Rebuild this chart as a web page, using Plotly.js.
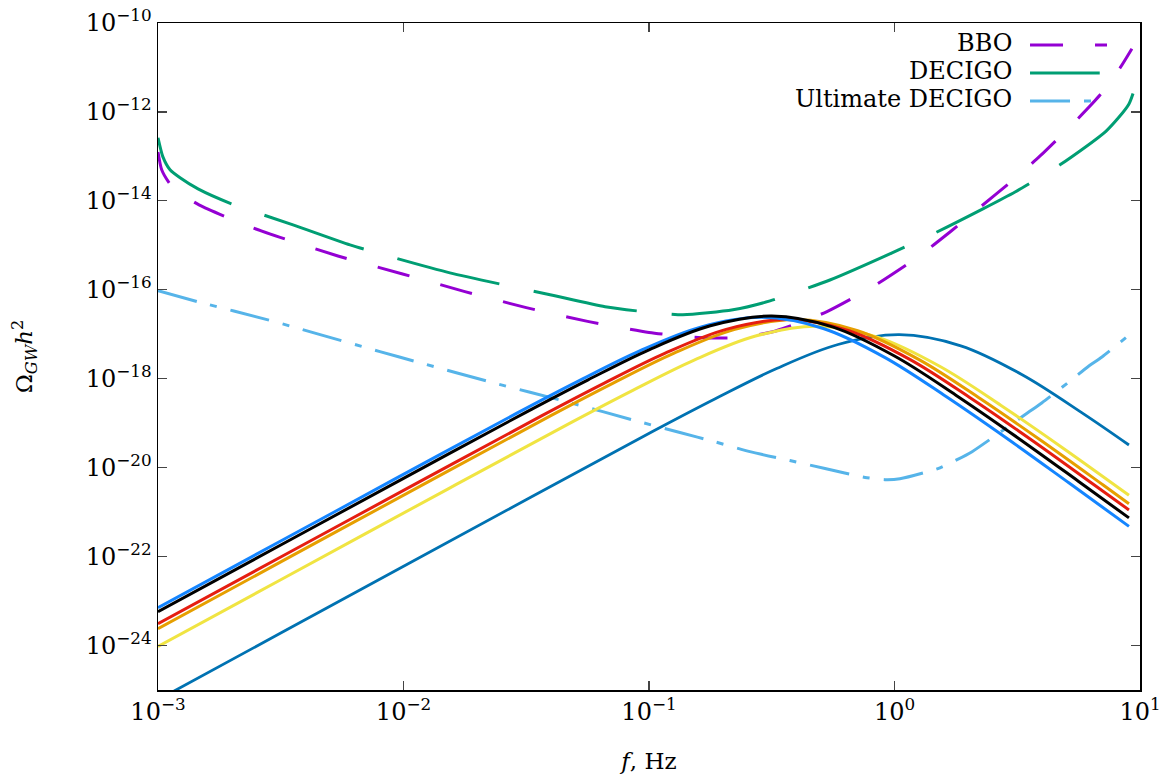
<!DOCTYPE html>
<html>
<head>
<meta charset="utf-8">
<script src="https://cdn.plot.ly/plotly-3.0.1.min.js"></script>
<style>
  html, body { margin: 0; padding: 0; background: #ffffff; }
  #chart { width: 1170px; height: 778px; }
</style>
</head>
<body>
<div id="chart"></div>
<script>
// ---- Data (values are log10 of f [Hz] and log10 of Omega_GW h^2) ----
const bboLogF = [-3.000, -2.985, -2.951, -2.900, -2.833, -2.613, -2.267, -2.000, -1.750, -1.500, -1.250, -1.000, -0.800, -0.650, -0.500, -0.397, -0.275, -0.088, 0.096, 0.226, 0.336, 0.483, 0.593, 0.735, 0.837, 0.920, 0.967];
const bboLogOmega = [-12.90, -13.30, -13.62, -13.86, -14.09, -14.61, -15.24, -15.65, -16.04, -16.40, -16.71, -16.96, -17.07, -17.08, -16.95, -16.76, -16.49, -15.93, -15.26, -14.70, -14.20, -13.53, -12.99, -12.22, -11.62, -11.00, -10.58];

const decigoLogF = [-3.000, -2.980, -2.951, -2.910, -2.837, -2.699, -2.450, -2.218, -2.083, -1.811, -1.403, -1.179, -1.024, -0.862, -0.658, -0.507, -0.263, -0.010, 0.173, 0.360, 0.491, 0.674, 0.862, 0.955, 1.000];
const decigoLogOmega = [-12.58, -13.01, -13.30, -13.48, -13.73, -14.07, -14.54, -14.99, -15.21, -15.62, -16.11, -16.38, -16.49, -16.56, -16.45, -16.25, -15.78, -15.17, -14.70, -14.18, -13.80, -13.19, -12.43, -11.82, -11.05];

const ultimateLogF = [-3.000, -2.837, -2.556, -2.096, -1.933, -1.635, -1.334, -1.037, -0.874, -0.731, -0.589, -0.426, -0.283, -0.120, -0.039, 0.022, 0.177, 0.255, 0.316, 0.544, 0.601, 0.727, 0.788, 0.845, 0.972];
const ultimateLogOmega = [-16.02, -16.27, -16.67, -17.39, -17.64, -18.09, -18.52, -18.97, -19.21, -19.42, -19.64, -19.84, -20.02, -20.22, -20.27, -20.25, -20.02, -19.82, -19.64, -18.76, -18.54, -18.00, -17.73, -17.51, -16.94];

const darkBlueLogF = [-3.000, -2.500, -1.480, -0.980, -0.730, -0.480, -0.230, 0.020, 0.270, 0.520, 0.770, 0.955];
const darkBlueLogOmega = [-25.22, -23.72, -20.66, -19.17, -18.45, -17.77, -17.23, -17.01, -17.26, -17.91, -18.79, -19.49];

const yellowLogF = [-3.000, -2.500, -1.816, -1.316, -1.066, -0.816, -0.566, -0.316, -0.066, 0.184, 0.434, 0.684, 0.955];
const yellowLogOmega = [-24.02, -22.52, -20.47, -18.98, -18.26, -17.58, -17.04, -16.82, -17.07, -17.72, -18.60, -19.55, -20.62];

const orangeLogF = [-3.000, -2.500, -1.900, -1.400, -1.150, -0.900, -0.650, -0.400, -0.150, 0.100, 0.350, 0.600, 0.850, 0.955];
const orangeLogOmega = [-23.62, -22.12, -20.32, -18.83, -18.11, -17.43, -16.89, -16.67, -16.92, -17.57, -18.45, -19.40, -20.39, -20.81];

const redLogF = [-3.000, -2.500, -1.936, -1.436, -1.186, -0.936, -0.686, -0.436, -0.186, 0.064, 0.314, 0.564, 0.814, 0.955];
const redLogOmega = [-23.51, -22.01, -20.32, -18.83, -18.11, -17.43, -16.89, -16.67, -16.92, -17.57, -18.45, -19.40, -20.39, -20.95];

const blueLogF = [-3.000, -2.500, -2.040, -1.540, -1.290, -1.040, -0.790, -0.540, -0.290, -0.040, 0.210, 0.460, 0.710, 0.955];
const blueLogOmega = [-23.15, -21.65, -20.27, -18.78, -18.06, -17.38, -16.84, -16.62, -16.87, -17.52, -18.40, -19.35, -20.34, -21.32];

const blackLogF = [-3.000, -2.500, -2.000, -1.500, -1.250, -1.000, -0.750, -0.500, -0.250, 0.000, 0.250, 0.500, 0.750, 0.955];
const blackLogOmega = [-23.24, -21.74, -20.24, -18.75, -18.03, -17.35, -16.81, -16.59, -16.84, -17.49, -18.37, -19.32, -20.31, -21.13];

const xTickVals = [1e-3, 1e-2, 1e-1, 1, 10];
const xTickExp = ['−3', '−2', '−1', '0', '1'];
const yTickVals = [1e-24, 1e-22, 1e-20, 1e-18, 1e-16, 1e-14, 1e-12, 1e-10];
const yTickExp = ['−24', '−22', '−20', '−18', '−16', '−14', '−12', '−10'];

const legendNames = ['BBO', 'DECIGO', 'Ultimate DECIGO'];

// ---- Build traces ----
const pow10 = arr => arr.map(v => Math.pow(10, v));
const FONT = 'DejaVu Serif, Liberation Serif, serif';
const tickLabel = e => '10<sup>' + e + '</sup>';

const dashBBO = '33px,32px';
const dashDECIGO = '105px,35px';
const dashUlt = '40px,14px,7px,14px';

function tr(lf, lo, color, dash, width, smoothing) {
  return {
    x: pow10(lf), y: pow10(lo), mode: 'lines', type: 'scatter',
    line: { color: color, width: width, dash: dash, shape: 'spline', smoothing: smoothing },
    hoverinfo: 'skip', showlegend: false
  };
}

const traces = [
  tr(bboLogF, bboLogOmega, '#9400d3', dashBBO, 3, 0.6),
  tr(decigoLogF, decigoLogOmega, '#009e73', dashDECIGO, 3, 0.6),
  tr(ultimateLogF, ultimateLogOmega, '#56b4e9', dashUlt, 3, 0.6),
  tr(darkBlueLogF, darkBlueLogOmega, '#0072b2', 'solid', 2.8, 1),
  tr(yellowLogF, yellowLogOmega, '#f0e442', 'solid', 3, 1),
  tr(orangeLogF, orangeLogOmega, '#e69f00', 'solid', 3, 1),
  tr(redLogF, redLogOmega, '#e51e10', 'solid', 3, 1),
  tr(blueLogF, blueLogOmega, '#1485ff', 'solid', 3, 1),
  tr(blackLogF, blackLogOmega, '#000000', 'solid', 3, 1)
];

// ---- Legend drawn in paper space (text left, sample right, as in reference) ----
const legColors = ['#9400d3', '#009e73', '#56b4e9'];
const legDash = [dashBBO, dashDECIGO, dashUlt];
const legY = [0.967, 0.925, 0.883];
const legX1 = [0.9664, 0.959, 0.957];
const annotations = legendNames.map((n, i) => ({
  text: n, xref: 'paper', yref: 'paper', x: 0.872, y: legY[i] + 0.003,
  xanchor: 'right', yanchor: 'middle', showarrow: false,
  font: { family: FONT, size: 24, color: '#000' }
}));
const shapes = legendNames.map((n, i) => ({
  type: 'line', xref: 'paper', yref: 'paper', x0: 0.888, x1: legX1[i], y0: legY[i], y1: legY[i],
  line: { color: legColors[i], width: 3, dash: legDash[i] }
}));

const axisCommon = {
  type: 'log', showgrid: false, zeroline: false,
  showline: true, linecolor: '#000', linewidth: 1.5, mirror: 'ticks',
  ticks: 'inside', ticklen: 9, tickwidth: 1.2, tickcolor: '#444',
  tickfont: { family: FONT, size: 24, color: '#000' }
};

const layout = {
  width: 1170, height: 778,
  margin: { l: 158, r: 30, t: 23, b: 88 },
  paper_bgcolor: '#fff', plot_bgcolor: '#fff',
  showlegend: false,
  xaxis: Object.assign({}, axisCommon, {
    range: [-3, 1], tickvals: xTickVals, ticktext: xTickExp.map(tickLabel),
    title: { text: '<i>f</i>, Hz', font: { family: FONT, size: 23, color: '#000' }, standoff: 27 }
  }),
  yaxis: Object.assign({}, axisCommon, {
    range: [-25, -10], tickvals: yTickVals, ticktext: yTickExp.map(tickLabel),
    title: { text: 'Ω<sub><i>GW</i></sub><i>h</i><sup>2</sup>', font: { family: FONT, size: 23, color: '#000' }, standoff: 46 }
  }),
  annotations: annotations,
  shapes: shapes
};

Plotly.newPlot('chart', traces, layout, { staticPlot: true, displayModeBar: false });
</script>
</body>
</html>
